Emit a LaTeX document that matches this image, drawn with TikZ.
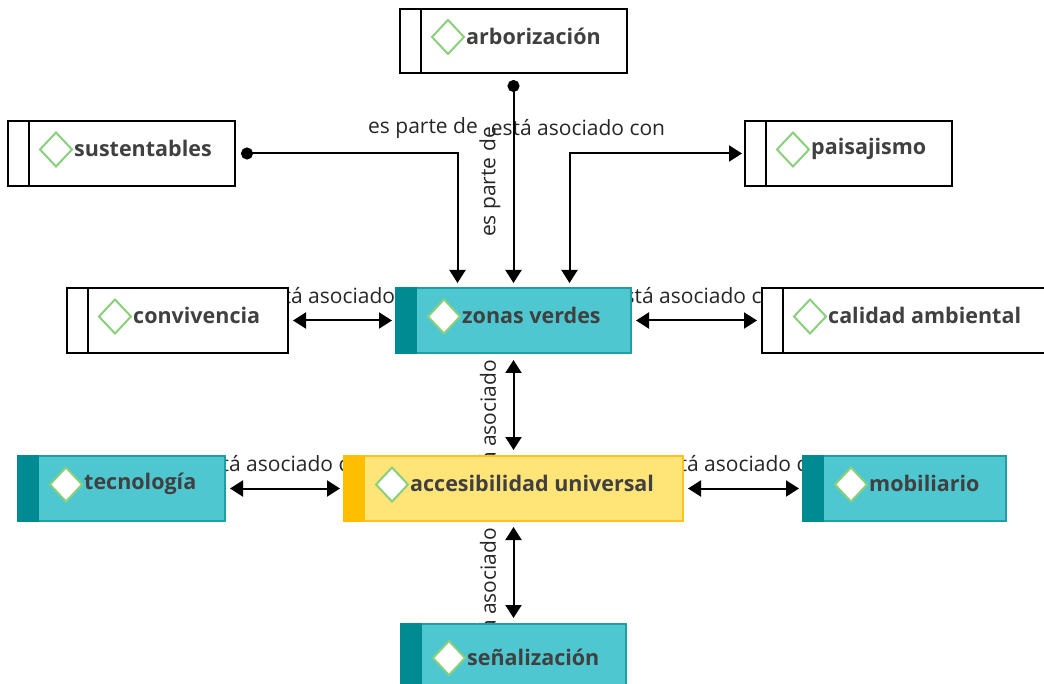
\documentclass[tikz,border=0pt]{standalone}
\usepackage{fontspec}
\setmainfont{Open Sans}
\usetikzlibrary{arrows.meta,calc}
\pgfdeclarelayer{bg}
\pgfsetlayers{bg,main}
\definecolor{tealF}{HTML}{4FC7D0}
\definecolor{tealS}{HTML}{008B92}
\definecolor{tealB}{HTML}{1E9FA6}
\definecolor{yelF}{HTML}{FFE478}
\definecolor{yelS}{HTML}{FFBE00}
\definecolor{yelB}{HTML}{FFC21A}
\definecolor{diamG}{HTML}{8AD07C}
\definecolor{txtC}{HTML}{404040}
\definecolor{lblC}{HTML}{262626}
\tikzset{
  wbox/.style={draw=black, line width=2pt, fill=white, inner sep=0pt, outer sep=0pt},
  tbox/.style={draw=tealB, line width=1.5pt, fill=tealF, inner sep=0pt, outer sep=0pt},
  ybox/.style={draw=yelB, line width=1.5pt, fill=yelF, inner sep=0pt, outer sep=0pt},
  ctext/.style={font=\fontsize{21.5}{26}\selectfont\bfseries, text=txtC, inner sep=0pt},
  elabel/.style={font=\fontsize{21}{25}\selectfont, text=lblC, inner sep=0pt},
  conn/.style={draw=black, line width=2pt},
  diamond line/.style={draw=diamG, line width=2pt, line join=miter},
  arr/.tip={Triangle[width=16pt,length=13pt]},
  dot/.tip={Circle[length=12pt]},
}
% white concept: name, x1, y1, x2, y2, text
\newcommand{\wconcept}[6]{%
  \node[wbox, minimum width={(#4-#2)*1pt}, minimum height={(#5-#3)*1pt}] (#1) at ({(#2+#4)/2},{(#3+#5)/2}) {};
  \draw[line width=2pt] ([xshift=21pt]#1.north west) -- ([xshift=21pt]#1.south west);
  \draw[diamond line, fill=white] ($(#1.west)+(32,-4)$) -- ++(16,-17) -- ++(16,17) -- ++(-16,17) -- cycle;
  \node[ctext, anchor=west] (#1-t) at ($(#1.west)+(66,-5)$) {#6};
}
% coloured concept: name, x1, y1, x2, y2, box style, strip colour, text
\newcommand{\cconcept}[8]{%
  \node[#6, minimum width={(#4-#2)*1pt}, minimum height={(#5-#3)*1pt}] (#1) at ({(#2+#4)/2},{(#3+#5)/2}) {};
  \fill[#7] ([shift={(-0.75pt,0.75pt)}]#1.north west) rectangle ([shift={(21pt,-0.75pt)}]#1.south west);
  \draw[diamond line, fill=white] ($(#1.west)+(32,-4)$) -- ++(16,-17) -- ++(16,17) -- ++(-16,17) -- cycle;
  \node[ctext, anchor=west] (#1-t) at ($(#1.west)+(66,-5)$) {#8};
}
\begin{document}
\begin{tikzpicture}[x=1pt,y=-1pt]
\useasboundingbox (0,0) rectangle (1044,684);

% edge labels (behind the boxes)
\begin{pgfonlayer}{bg}
  \node[elabel] (l1) at (423,128) {es parte de};
  \node[elabel, rotate=90] (l2) at (490,182) {es parte de};
  \node[elabel] (l3) at (578,128) {está asociado con};
  \node[elabel] (l4) at (349,296) {está asociado con};
  \node[elabel] (l5) at (700,296) {está asociado con};
  \node[elabel] (l6) at (287,464) {está asociado con};
  \node[elabel] (l7) at (745,464) {está asociado con};
  \node[elabel, rotate=90] (l8) at (488,406) {está asociado con};
  \node[elabel, rotate=90] (l9) at (488,574) {está asociado con};
\end{pgfonlayer}

% concepts
\wconcept{arb}{400}{9}{627}{73}{arborización}
\wconcept{sus}{8}{121}{235}{186}{sustentables}
\wconcept{pai}{745}{121}{952}{186}{paisajismo}
\wconcept{con}{67}{288}{288}{353}{convivencia}
\cconcept{zv}{396}{288}{631}{353}{tbox}{tealS}{zonas verdes}
\wconcept{cal}{762}{288}{1070}{353}{calidad ambiental}
\cconcept{tec}{18}{456}{225}{521}{tbox}{tealS}{tecnología}
\cconcept{acc}{344}{456}{683}{521}{ybox}{yelS}{accesibilidad universal}
\cconcept{mob}{803}{456}{1006}{521}{tbox}{tealS}{mobiliario}
\cconcept{sen}{401}{624}{626}{700}{tbox}{tealS}{señalización}

% connectors
\draw[conn, {dot}-{arr}, shorten <=7pt, shorten >=5pt] (arb.south) -- (arb.south |- zv.north);
\draw[conn, {dot}-{arr}, shorten <=6pt, shorten >=5pt] (sus.east) -| ([xshift=-56pt]zv.north);
\draw[conn, {arr}-{arr}, shorten <=5pt, shorten >=3pt] ([xshift=56pt]zv.north) |- (pai.west);
\draw[conn, {arr}-{arr}, shorten <=5pt, shorten >=4pt] (con.east) -- (zv.west);
\draw[conn, {arr}-{arr}, shorten <=5pt, shorten >=5pt] (zv.east) -- (cal.west |- zv.east);
\draw[conn, {arr}-{arr}, shorten <=7pt, shorten >=6pt] (zv.south) -- (zv.south |- acc.north);
\draw[conn, {arr}-{arr}, shorten <=5pt, shorten >=4pt] (tec.east) -- (acc.west);
\draw[conn, {arr}-{arr}, shorten <=5pt, shorten >=4pt] (acc.east) -- (mob.west);
\draw[conn, {arr}-{arr}, shorten <=6pt, shorten >=6pt] (acc.south -| zv.south) -- (zv.south |- sen.north);
\end{tikzpicture}
\end{document}
